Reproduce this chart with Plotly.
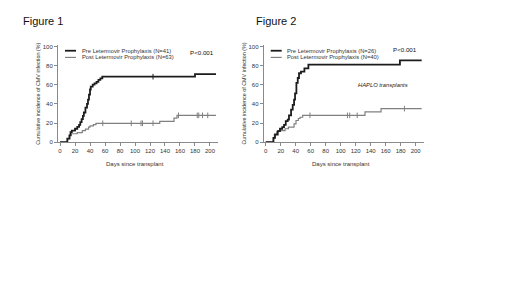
import numpy as np
import plotly.graph_objects as go

# ---------------- data ----------------
# Figure 1 (all transplants)
f1_pre_days = [0, 9.8, 12.7, 14.0, 15.7, 20.0, 23.0, 25.4, 27.0, 28.8, 30.5, 31.8, 33.9, 36.0,
               37.3, 38.6, 40.0, 41.0, 43.6, 46.0, 48.7, 51.2, 53.8, 56.4, 180.0, 208.0]
f1_pre_inc = [0, 3.7, 7.0, 10.5, 12.0, 14.0, 16.0, 18.0, 21.0, 24.0, 27.5, 31.0, 36.0, 40.0,
              44.5, 49.7, 55.0, 58.0, 60.0, 61.5, 63.0, 65.0, 66.7, 68.4, 71.0, 71.0]
f1_pre_cens = [124]

f1_post_days = [0, 9.7, 12.3, 14.8, 23.0, 29.7, 33.9, 38.0, 40.0, 44.5, 47.9, 133.0, 152.0, 156.0, 208.0]
f1_post_inc = [0, 3.7, 7.0, 8.8, 10.0, 12.0, 13.6, 15.6, 17.0, 18.4, 19.7, 21.8, 25.0, 28.0, 28.0]
f1_post_cens = [57, 95, 108, 110, 124, 158, 183, 185, 190, 197]

# Figure 2 (HAPLO transplants)
f2_pre_days = [0, 10.2, 12.4, 16.0, 19.0, 22.0, 24.4, 26.7, 29.3, 31.0, 33.8, 36.0, 37.8, 39.1,
               40.9, 42.7, 44.4, 47.0, 51.6, 56.9, 179.0, 208.0]
f2_pre_inc = [0, 4.5, 8.0, 11.5, 14.0, 15.6, 18.0, 22.0, 23.6, 28.0, 34.0, 39.0, 44.4, 51.0,
              62.0, 67.0, 72.0, 73.6, 77.0, 81.0, 85.4, 85.4]
f2_pre_cens = []

f2_post_days = [0, 10.5, 11.5, 14.7, 17.0, 25.8, 30.2, 37.8, 40.4, 43.5, 45.8, 49.3, 132.4, 153.8, 208.0]
f2_post_inc = [0, 4.0, 8.0, 10.8, 12.0, 14.0, 15.6, 19.0, 22.6, 24.7, 26.0, 28.0, 31.6, 35.0, 35.0]
f2_post_cens = [59, 109, 112, 122, 185]

fig_titles = ["Figure 1", "Figure 2"]
pre_labels = ["Pre Letermovir Prophylaxis (N=41)", "Pre Letermovir Prophylaxis (N=26)"]
post_labels = ["Post Letermovir Prophylaxis (N=63)", "Post Letermovir Prophylaxis (N=40)"]
p_values = ["P<0.001", "P<0.001"]
x_ticks = list(range(0, 201, 20))
y_ticks = list(range(0, 101, 20))
y_title = "Cumulative incidence of CMV infection (%)"
x_title = "Days since transplant"
subtitle2 = "HAPLO transplants"

# ---------------- style ----------------
W, H = 520, 292
FONT = "Arial, Liberation Sans, sans-serif"
PRE_COL = "#1c1c1c"
POST_COL = "#808080"
AX_COL = "#8a8a8a"
XR = [-2.7, 210.7]
YR = [0, 102]
y0_px, y1_px = 135, 36
ydom = [1 - y0_px / H, 1 - y1_px / H]
xdoms_px = [(50, 210), (255.7, 415.7)]
title_x_px = [13, 246]


def step_at(days, inc, t):
    idx = np.searchsorted(np.asarray(days), t, side="right") - 1
    return [inc[i] for i in idx]


fig = go.Figure()
panels = [
    (f1_pre_days, f1_pre_inc, f1_pre_cens, f1_post_days, f1_post_inc, f1_post_cens),
    (f2_pre_days, f2_pre_inc, f2_pre_cens, f2_post_days, f2_post_inc, f2_post_cens),
]

for k, (pd_, pi_, pc_, qd_, qi_, qc_) in enumerate(panels):
    xa = "x" if k == 0 else "x2"
    ya = "y" if k == 0 else "y2"
    fig.add_trace(go.Scatter(x=qd_, y=qi_, mode="lines", line=dict(color=POST_COL, width=1.2, shape="hv"),
                             xaxis=xa, yaxis=ya, showlegend=False, name=post_labels[k]))
    if qc_:
        fig.add_trace(go.Scatter(x=qc_, y=step_at(qd_, qi_, qc_), mode="markers",
                                 marker=dict(symbol="line-ns", size=4, line=dict(color=POST_COL, width=1)),
                                 xaxis=xa, yaxis=ya, showlegend=False, hoverinfo="skip"))
    fig.add_trace(go.Scatter(x=pd_, y=pi_, mode="lines", line=dict(color=PRE_COL, width=1.8, shape="hv"),
                             xaxis=xa, yaxis=ya, showlegend=False, name=pre_labels[k]))
    if pc_:
        fig.add_trace(go.Scatter(x=pc_, y=step_at(pd_, pi_, pc_), mode="markers",
                                 marker=dict(symbol="line-ns", size=4, line=dict(color=PRE_COL, width=1)),
                                 xaxis=xa, yaxis=ya, showlegend=False, hoverinfo="skip"))

axis_common = dict(showgrid=False, zeroline=False, showline=True, linecolor=AX_COL, linewidth=1,
                   ticks="outside", ticklen=3, tickcolor=AX_COL, tickwidth=1,
                   tickfont=dict(family=FONT, size=6, color="#333333"))

layout = dict(width=W, height=H, margin=dict(l=0, r=0, t=0, b=0),
              paper_bgcolor="white", plot_bgcolor="white", showlegend=False)
for k in range(2):
    sfx = "" if k == 0 else "2"
    xd = [xdoms_px[k][0] / W, xdoms_px[k][1] / W]
    layout["xaxis" + sfx] = dict(axis_common, domain=xd, range=XR, tickvals=x_ticks,
                                 anchor="y" + sfx, fixedrange=True)
    layout["yaxis" + sfx] = dict(axis_common, domain=ydom, range=YR, tickvals=y_ticks,
                                 anchor="x" + sfx, fixedrange=True)
fig.update_layout(**layout)

ann = []
shapes = []
for k in range(2):
    ax_px = xdoms_px[k][0]
    # figure title
    ann.append(dict(x=title_x_px[k] / W, y=1 - 12 / H, xref="paper", yref="paper", text=fig_titles[k],
                    showarrow=False, xanchor="left", yanchor="middle",
                    font=dict(family=FONT, size=11, color="#111111")))
    # y title
    ann.append(dict(x=(ax_px - 20) / W, y=1 - 86 / H, xref="paper", yref="paper", text=y_title,
                    textangle=-90, showarrow=False, xanchor="center", yanchor="middle",
                    font=dict(family=FONT, size=5.4, color="#333333")))
    # x title
    ann.append(dict(x=(ax_px + 77) / W, y=1 - 157 / H, xref="paper", yref="paper", text=x_title,
                    showarrow=False, xanchor="center", yanchor="middle",
                    font=dict(family=FONT, size=6, color="#333333")))
    # legend rows
    for r, (lab, col, lw) in enumerate([(pre_labels[k], PRE_COL, 1.8), (post_labels[k], POST_COL, 1.2)]):
        yy = 1 - (42.3 + 6.8 * r) / H
        shapes.append(dict(type="line", xref="paper", yref="paper", x0=(ax_px + 7) / W, x1=(ax_px + 18) / W,
                           y0=yy, y1=yy, line=dict(color=col, width=lw)))
        ann.append(dict(x=(ax_px + 21.5) / W, y=yy, xref="paper", yref="paper", text=lab,
                        showarrow=False, xanchor="left", yanchor="middle",
                        font=dict(family=FONT, size=5.8, color="#333333")))
# p-values
ann.append(dict(x=180 / W, y=1 - 44.5 / H, xref="paper", yref="paper", text=p_values[0], showarrow=False,
                xanchor="left", yanchor="middle", font=dict(family=FONT, size=6.2, color="#111111")))
ann.append(dict(x=383 / W, y=1 - 41.5 / H, xref="paper", yref="paper", text=p_values[1], showarrow=False,
                xanchor="left", yanchor="middle", font=dict(family=FONT, size=6.2, color="#111111")))
ann.append(dict(x=348 / W, y=1 - 77 / H, xref="paper", yref="paper", text="<i>" + subtitle2 + "</i>",
                showarrow=False, xanchor="left", yanchor="middle",
                font=dict(family=FONT, size=5.8, color="#222222")))
fig.update_layout(annotations=ann, shapes=shapes)

fig.write_html("out.html")
